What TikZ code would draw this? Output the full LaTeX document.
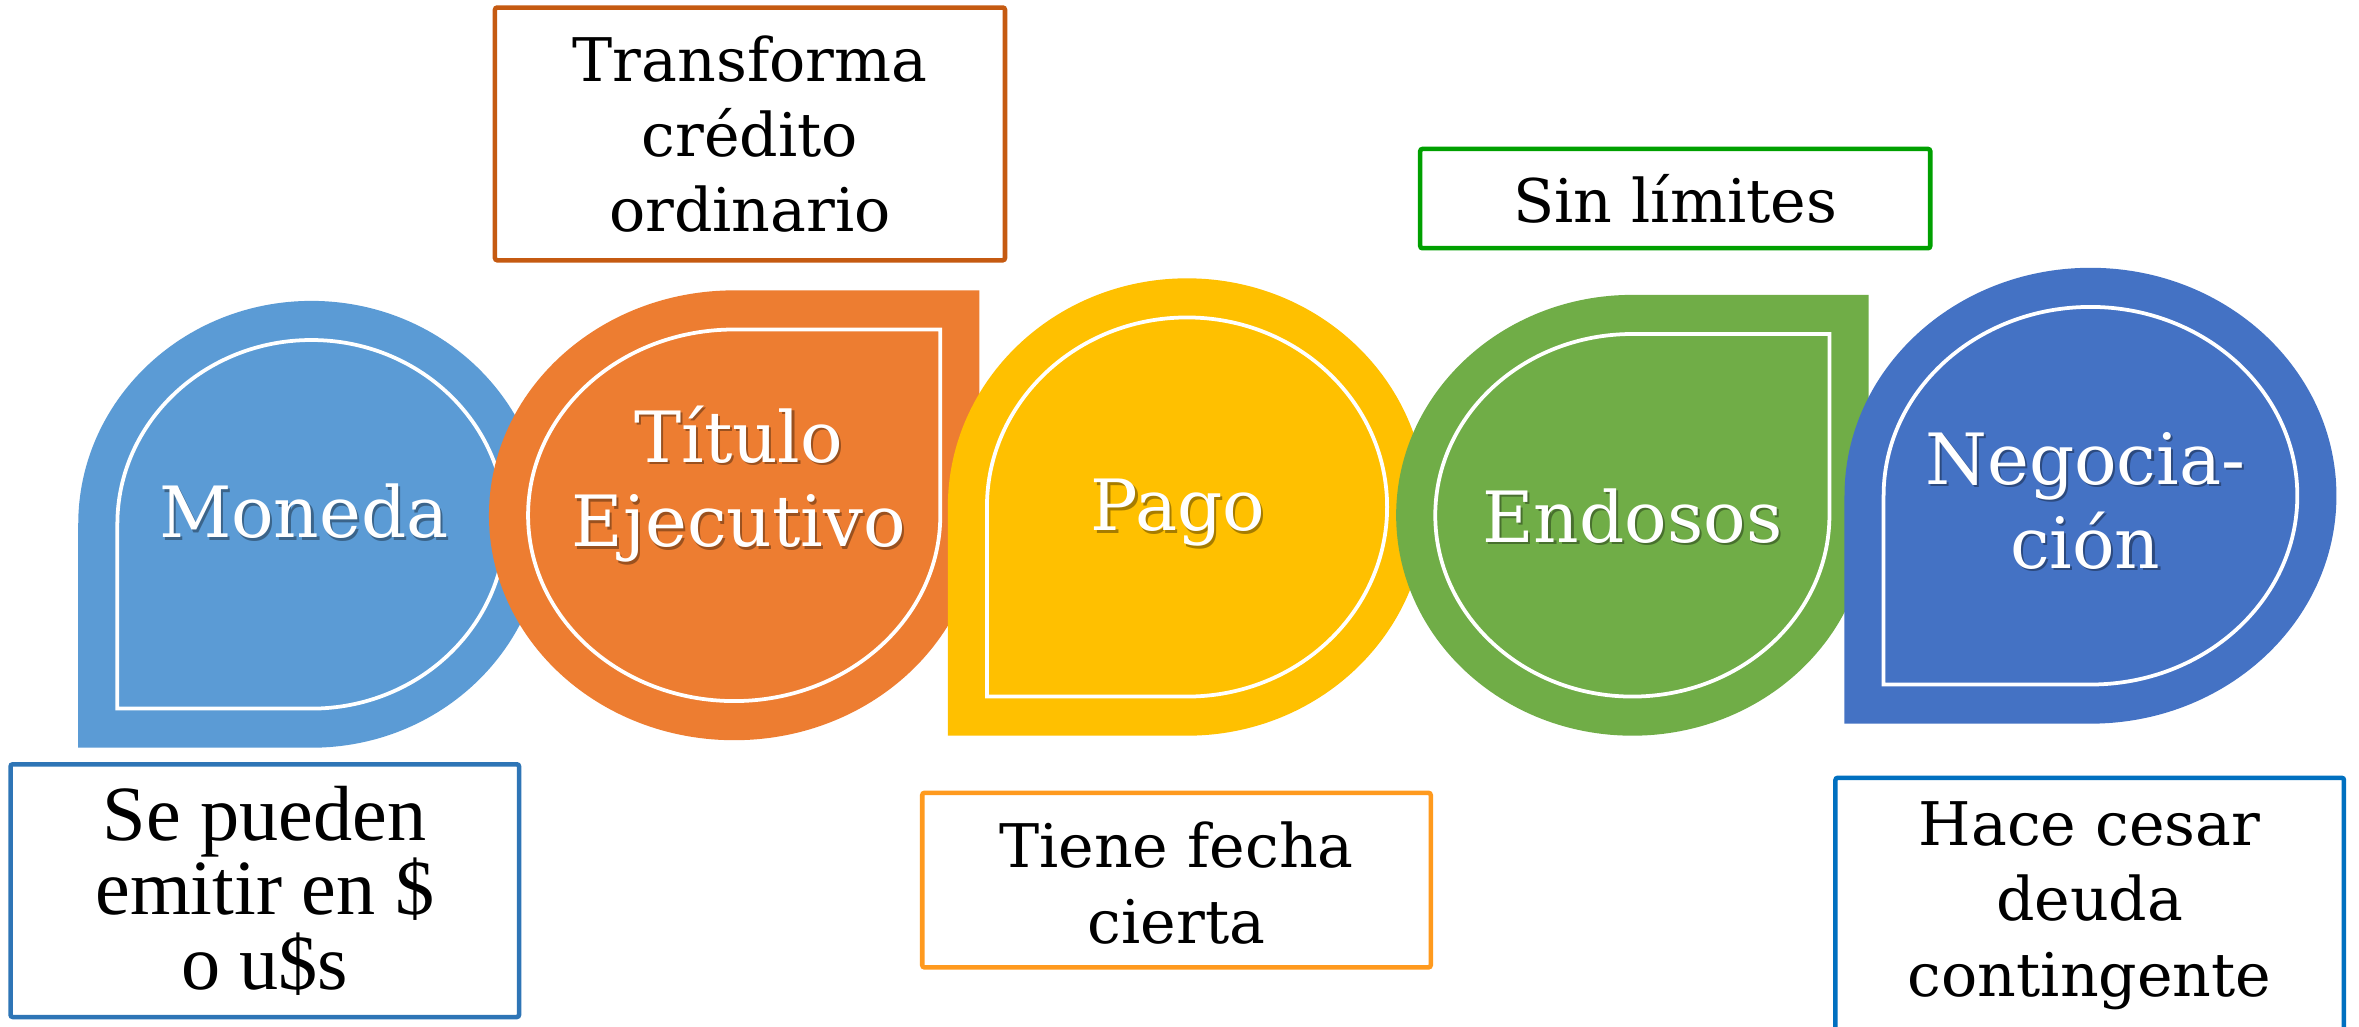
\documentclass[tikz,border=0pt]{standalone}
\usepackage{fontspec}
\setmainfont{DejaVu Serif}
\newfontfamily\timesf{Liberation Serif}
\definecolor{cblue}{HTML}{5B9BD5}
\definecolor{corange}{HTML}{ED7D31}
\definecolor{cyellow}{HTML}{FFC000}
\definecolor{cgreen}{HTML}{70AD47}
\definecolor{cdblue}{HTML}{4472C4}
\definecolor{bxbrown}{HTML}{C55A11}
\definecolor{bxgreen}{HTML}{00A000}
\definecolor{bxblue}{HTML}{2E75B6}
\definecolor{bxorange}{HTML}{FF9A1E}
\definecolor{bxdblue}{HTML}{0070C0}
% teardrop with square bottom-left corner: cx, cy, rx, ry, options
\newcommand{\tearBL}[5]{%
  \path[#5] ({#1-(#3)},{#2}) arc[start angle=180,end angle=450,x radius={#3},y radius={#4}]
    -- ({#1-(#3)},{#2+(#4)}) -- cycle;}
% teardrop with square top-right corner
\newcommand{\tearTR}[5]{%
  \path[#5] ({#1},{#2-(#4)}) arc[start angle=270,end angle=0,x radius={#3},y radius={#4}]
    -- ({#1+(#3)},{#2-(#4)}) -- cycle;}
\newcommand{\dropBL}[5]{%
  \tearBL{#1}{#2}{#3}{#4}{fill=#5}
  \tearBL{#1}{#2}{#3-26}{#4-26}{draw=white,line width=2.5pt}}
\newcommand{\dropTR}[5]{%
  \tearTR{#1}{#2}{#3}{#4}{fill=#5}
  \tearTR{#1}{#2}{#3-26}{#4-26}{draw=white,line width=2.5pt}}
\begin{document}
\begin{tikzpicture}[x=1pt,y=-1pt,
  shapetxt/.style={text=white,font=\fontsize{47}{56}\selectfont,align=center,inner sep=0pt},
  shadowtxt/.style={shapetxt,text=black,text opacity=0.35},
  boxtxt/.style={font=\fontsize{40}{50}\selectfont,align=center,inner sep=0pt},
  notebox/.style={draw,line width=3pt,rounded corners=1.5pt,fill=white}]
\clip (0,0) rectangle (1568,682);
\fill[white] (0,0) rectangle (1568,682);

% shapes, left to right
\dropBL{207}{348.5}{155}{148.5}{cblue}
\dropTR{488}{342.5}{163}{149.5}{corange}
\dropBL{789}{337}{159}{152}{cyellow}
\dropTR{1085}{342.5}{157}{146.5}{cgreen}
\dropBL{1389.5}{329.5}{163.5}{151.5}{cdblue}

% shape labels with soft shadow
\node[shadowtxt] (monedas) at (203.5,341.5) {Moneda};
\node[shapetxt]  (moneda)  at (202,340) {Moneda};
\node[shadowtxt] (titulos) at (492.5,323.5) {Título\\Ejecutivo};
\node[shapetxt]  (titulo)  at (491,322) {Título\\Ejecutivo};
\node[shadowtxt] (pagos)   at (784.5,342.5) {Pago};
\node[shapetxt]  (pago)    at (783,341) {Pago};
\node[shadowtxt] (endosos) at (1086.5,344.5) {Endosos};
\node[shapetxt]  (endoso)  at (1085,343) {Endosos};
\node[shadowtxt] (negocs)  at (1387.5,334.5) {Negocia-\\ción};
\node[shapetxt]  (negoc)   at (1386,333) {Negocia-\\ción};

% note boxes
\draw[notebox,draw=bxbrown] (329,5) rectangle (668,173);
\node[boxtxt] (transf) at (498.5,89) {Transforma\\crédito\\ordinario};

\draw[notebox,draw=bxgreen] (944,99) rectangle (1283,165);
\node[boxtxt] (sinlim) at (1113.5,132) {Sin límites};

\draw[notebox,draw=bxblue] (7,508) rectangle (345,676);
\node[boxtxt,font=\timesf\fontsize{52}{49.5}\selectfont] (emitir) at (176,592) {Se pueden\\emitir en \$\\o u\$s};

\draw[notebox,draw=bxorange] (613,527) rectangle (951,643);
\node[boxtxt] (fecha) at (782,587) {Tiene fecha\\cierta};

\draw[notebox,draw=bxdblue] (1220,517) rectangle (1558,700);
\node[boxtxt] (cesar) at (1389,602) {Hace cesar\\deuda\\contingente};
\end{tikzpicture}
\end{document}
